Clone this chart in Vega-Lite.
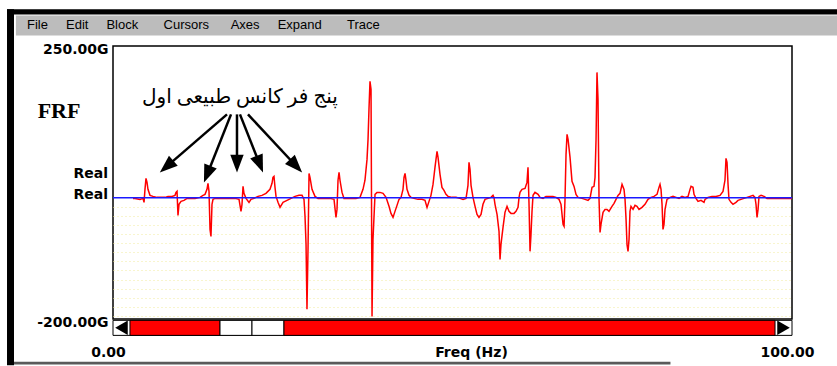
{
"$schema":"https://vega.github.io/schema/vega-lite/v6.json",
"width":679,"height":273,
"autosize":{"type":"none"},
"padding":{"left":113,"top":46,"right":45,"bottom":47},
"background":"#ffffff",
"config":{"view":{"stroke":"#000000","strokeWidth":1.5,"fill":"#ffffff"}},
"data":{"values":[{"item":"annotation"}]},
"datasets":{
"frf":[
{"freq":2.95,"value":-1.2},{"freq":3.24,"value":-1.2},{"freq":3.98,"value":-2.8},{"freq":4.42,"value":-1.2},{"freq":4.57,"value":-7.7},{"freq":4.71,"value":13.7},{"freq":4.86,"value":31.8},{"freq":5.01,"value":25.2},{"freq":5.15,"value":13.7},{"freq":5.45,"value":3.8},{"freq":5.89,"value":2.1},{"freq":6.48,"value":0.5},{"freq":6.92,"value":0.5},{"freq":7.66,"value":0.5},{"freq":8.10,"value":2.1},{"freq":8.39,"value":2.1},{"freq":8.69,"value":2.1},{"freq":9.13,"value":3.8},{"freq":9.28,"value":8.7},{"freq":9.43,"value":10.4},{"freq":9.57,"value":-29.2},{"freq":9.72,"value":-11.0},{"freq":10.02,"value":-6.1},{"freq":10.46,"value":-4.5},{"freq":10.90,"value":-1.2},{"freq":11.34,"value":-1.2},{"freq":12.08,"value":-1.2},{"freq":12.81,"value":0.5},{"freq":13.26,"value":3.8},{"freq":13.55,"value":5.4},{"freq":13.84,"value":13.7},{"freq":13.99,"value":23.6},{"freq":14.14,"value":10.4},{"freq":14.29,"value":-52.3},{"freq":14.43,"value":-63.8},{"freq":14.58,"value":-11.0},{"freq":14.73,"value":-2.8},{"freq":15.02,"value":-1.2},{"freq":15.76,"value":-1.2},{"freq":16.50,"value":-1.2},{"freq":17.23,"value":-1.2},{"freq":17.97,"value":-1.2},{"freq":18.56,"value":-2.8},{"freq":18.85,"value":-22.6},{"freq":19.00,"value":-11.0},{"freq":19.15,"value":18.6},{"freq":19.29,"value":7.1},{"freq":19.59,"value":-1.2},{"freq":20.03,"value":-7.7},{"freq":20.32,"value":-2.8},{"freq":20.77,"value":-1.2},{"freq":21.36,"value":2.1},{"freq":21.94,"value":3.8},{"freq":22.53,"value":7.1},{"freq":23.12,"value":13.7},{"freq":23.42,"value":23.6},{"freq":23.56,"value":33.3},{"freq":23.71,"value":35.0},{"freq":23.86,"value":17.0},{"freq":24.01,"value":2.1},{"freq":24.30,"value":-7.7},{"freq":24.60,"value":-16.0},{"freq":25.04,"value":-7.7},{"freq":25.63,"value":-4.5},{"freq":26.22,"value":-1.2},{"freq":26.80,"value":2.1},{"freq":27.39,"value":3.8},{"freq":27.84,"value":3.8},{"freq":28.13,"value":-2.8},{"freq":28.28,"value":-30.8},{"freq":28.43,"value":-77.0},{"freq":28.57,"value":-184.1},{"freq":28.72,"value":-85.2},{"freq":28.87,"value":40.0},{"freq":29.01,"value":33.3},{"freq":29.31,"value":13.7},{"freq":29.75,"value":2.1},{"freq":30.19,"value":-1.2},{"freq":30.78,"value":-1.2},{"freq":31.37,"value":-1.2},{"freq":31.96,"value":-1.2},{"freq":32.55,"value":-2.8},{"freq":32.84,"value":-32.5},{"freq":32.99,"value":-19.3},{"freq":33.14,"value":28.7},{"freq":33.29,"value":41.7},{"freq":33.43,"value":28.7},{"freq":33.73,"value":8.7},{"freq":34.02,"value":-1.2},{"freq":34.61,"value":-1.2},{"freq":35.20,"value":-1.2},{"freq":35.79,"value":-1.2},{"freq":36.38,"value":0.5},{"freq":36.82,"value":13.7},{"freq":37.11,"value":28.7},{"freq":37.41,"value":63.1},{"freq":37.56,"value":96.1},{"freq":37.70,"value":145.5},{"freq":37.85,"value":191.7},{"freq":38.00,"value":178.5},{"freq":38.15,"value":-195.7},{"freq":38.29,"value":-68.7},{"freq":38.59,"value":5.4},{"freq":38.88,"value":8.7},{"freq":39.32,"value":8.7},{"freq":39.77,"value":7.1},{"freq":40.21,"value":0.5},{"freq":40.65,"value":-14.3},{"freq":40.94,"value":-25.9},{"freq":41.24,"value":-32.5},{"freq":41.53,"value":-22.6},{"freq":41.83,"value":-12.7},{"freq":42.12,"value":-2.8},{"freq":42.42,"value":0.5},{"freq":42.71,"value":13.7},{"freq":42.86,"value":33.3},{"freq":43.01,"value":40.0},{"freq":43.15,"value":28.7},{"freq":43.30,"value":13.7},{"freq":43.60,"value":3.8},{"freq":43.89,"value":0.5},{"freq":44.33,"value":-1.2},{"freq":44.92,"value":-2.8},{"freq":45.51,"value":-2.8},{"freq":45.95,"value":-4.5},{"freq":46.25,"value":-16.0},{"freq":46.54,"value":-6.1},{"freq":46.83,"value":3.8},{"freq":47.13,"value":21.9},{"freq":47.42,"value":49.9},{"freq":47.57,"value":63.1},{"freq":47.72,"value":76.3},{"freq":47.87,"value":66.4},{"freq":48.16,"value":38.4},{"freq":48.45,"value":17.0},{"freq":48.75,"value":12.0},{"freq":49.04,"value":5.4},{"freq":49.34,"value":2.1},{"freq":49.93,"value":0.5},{"freq":50.52,"value":0.5},{"freq":51.11,"value":-1.2},{"freq":51.55,"value":-2.8},{"freq":51.99,"value":-1.2},{"freq":52.28,"value":20.3},{"freq":52.43,"value":58.2},{"freq":52.58,"value":46.6},{"freq":52.73,"value":20.3},{"freq":53.02,"value":0.5},{"freq":53.32,"value":-14.3},{"freq":53.61,"value":-27.5},{"freq":53.90,"value":-32.5},{"freq":54.20,"value":-27.5},{"freq":54.49,"value":-11.0},{"freq":54.79,"value":-2.8},{"freq":55.23,"value":-1.2},{"freq":55.67,"value":0.5},{"freq":55.97,"value":3.8},{"freq":56.11,"value":0.5},{"freq":56.26,"value":-11.0},{"freq":56.56,"value":-27.5},{"freq":56.85,"value":-55.5},{"freq":57.00,"value":-101.7},{"freq":57.14,"value":-77.0},{"freq":57.44,"value":-49.0},{"freq":57.73,"value":-24.2},{"freq":58.03,"value":-14.3},{"freq":58.32,"value":-22.6},{"freq":58.62,"value":-25.9},{"freq":59.06,"value":-25.9},{"freq":59.35,"value":-22.6},{"freq":59.65,"value":-16.0},{"freq":59.80,"value":0.5},{"freq":59.94,"value":8.7},{"freq":60.24,"value":13.7},{"freq":60.68,"value":15.3},{"freq":60.97,"value":25.2},{"freq":61.12,"value":49.9},{"freq":61.27,"value":-11.0},{"freq":61.42,"value":-88.5},{"freq":61.56,"value":-60.5},{"freq":61.71,"value":-22.6},{"freq":61.86,"value":3.8},{"freq":62.15,"value":8.7},{"freq":62.60,"value":5.4},{"freq":62.89,"value":0.5},{"freq":63.33,"value":-1.2},{"freq":63.77,"value":2.1},{"freq":64.36,"value":2.1},{"freq":64.80,"value":2.1},{"freq":65.25,"value":0.5},{"freq":65.69,"value":-2.8},{"freq":65.98,"value":-11.0},{"freq":66.28,"value":-44.0},{"freq":66.43,"value":-47.3},{"freq":66.57,"value":-2.8},{"freq":66.72,"value":71.4},{"freq":66.87,"value":104.3},{"freq":67.02,"value":96.1},{"freq":67.31,"value":66.4},{"freq":67.60,"value":26.9},{"freq":67.90,"value":18.6},{"freq":68.19,"value":5.4},{"freq":68.49,"value":0.5},{"freq":69.07,"value":-1.2},{"freq":69.52,"value":-2.8},{"freq":69.96,"value":-4.5},{"freq":70.25,"value":-1.2},{"freq":70.55,"value":17.0},{"freq":70.84,"value":18.6},{"freq":70.99,"value":33.3},{"freq":71.14,"value":96.1},{"freq":71.28,"value":206.5},{"freq":71.43,"value":162.0},{"freq":71.58,"value":-2.8},{"freq":71.73,"value":-57.2},{"freq":71.87,"value":-44.0},{"freq":72.17,"value":-24.2},{"freq":72.46,"value":-19.3},{"freq":72.76,"value":-19.3},{"freq":73.05,"value":-22.6},{"freq":73.49,"value":-14.3},{"freq":73.79,"value":-9.4},{"freq":74.08,"value":-2.8},{"freq":74.38,"value":3.8},{"freq":74.67,"value":7.1},{"freq":74.97,"value":21.9},{"freq":75.26,"value":13.7},{"freq":75.41,"value":-2.8},{"freq":75.56,"value":-35.8},{"freq":75.70,"value":-77.0},{"freq":75.85,"value":-88.5},{"freq":76.00,"value":-68.7},{"freq":76.14,"value":-22.6},{"freq":76.29,"value":-14.3},{"freq":76.59,"value":-19.3},{"freq":76.88,"value":-12.7},{"freq":77.17,"value":-14.3},{"freq":77.47,"value":-19.3},{"freq":77.91,"value":-16.0},{"freq":78.35,"value":-11.0},{"freq":78.79,"value":-2.8},{"freq":79.24,"value":0.5},{"freq":79.68,"value":2.1},{"freq":80.12,"value":5.4},{"freq":80.41,"value":17.0},{"freq":80.56,"value":21.9},{"freq":80.71,"value":13.7},{"freq":80.86,"value":-11.0},{"freq":81.00,"value":-52.3},{"freq":81.15,"value":-44.0},{"freq":81.30,"value":-19.3},{"freq":81.59,"value":-2.8},{"freq":82.04,"value":0.5},{"freq":82.48,"value":2.1},{"freq":82.92,"value":0.5},{"freq":83.36,"value":-1.2},{"freq":83.80,"value":2.1},{"freq":84.24,"value":0.5},{"freq":84.69,"value":2.1},{"freq":84.98,"value":13.7},{"freq":85.13,"value":18.6},{"freq":85.42,"value":17.0},{"freq":85.57,"value":5.4},{"freq":85.86,"value":-1.2},{"freq":86.16,"value":-6.1},{"freq":86.60,"value":-4.5},{"freq":87.04,"value":-7.7},{"freq":87.19,"value":-2.8},{"freq":87.63,"value":0.5},{"freq":88.22,"value":2.1},{"freq":88.81,"value":2.1},{"freq":89.40,"value":3.8},{"freq":89.84,"value":10.4},{"freq":90.13,"value":28.7},{"freq":90.28,"value":64.8},{"freq":90.43,"value":58.2},{"freq":90.58,"value":21.9},{"freq":90.72,"value":-2.8},{"freq":91.02,"value":-7.7},{"freq":91.31,"value":-11.0},{"freq":91.75,"value":-7.7},{"freq":92.05,"value":-4.5},{"freq":92.49,"value":-2.8},{"freq":92.93,"value":-1.2},{"freq":93.38,"value":0.5},{"freq":93.82,"value":2.1},{"freq":94.26,"value":3.8},{"freq":94.55,"value":0.5},{"freq":94.70,"value":-11.0},{"freq":94.85,"value":-32.5},{"freq":95.00,"value":-19.3},{"freq":95.14,"value":2.1},{"freq":95.44,"value":3.8},{"freq":95.88,"value":2.1},{"freq":96.32,"value":-1.2},{"freq":96.76,"value":-1.2},{"freq":98.53,"value":-1.2},{"freq":99.12,"value":-1.2},{"freq":100.0,"value":-1.2}
],
"scroll":[
{"start":2.50,"end":15.76,"part":"bar"},
{"start":15.76,"end":20.47,"part":"thumb"},
{"start":20.47,"end":25.18,"part":"thumb"},
{"start":25.18,"end":97.50,"part":"bar"}
],
"arrows":[
{"from_f":16.79,"from_v":137.3,"to_f":8.14,"to_v":53.6},
{"from_f":17.38,"from_v":137.3,"to_f":14.00,"to_v":42.0},
{"from_f":18.26,"from_v":137.3,"to_f":18.26,"to_v":59.8},
{"from_f":18.70,"from_v":137.3,"to_f":21.49,"to_v":58.5},
{"from_f":19.88,"from_v":137.3,"to_f":26.73,"to_v":55.1}
]
},
"layer":[
{"data":{"name":"frf"},
 "mark":{"type":"line","color":"#ff0000","strokeWidth":1.5},
 "encoding":{
  "x":{"field":"freq","type":"quantitative","scale":{"domain":[0,100],"nice":false,"zero":false},
   "axis":{"values":[0,100],"format":".2f","labelFlush":false,"labelOffset":-5,"ticks":false,"domain":false,"grid":false,"labelPadding":26,"labelFont":"DejaVu Sans","labelFontWeight":"bold","labelFontSize":14,"labelColor":"#000000",
    "title":"Freq (Hz)","titleFont":"DejaVu Sans","titleFontWeight":"bold","titleFontSize":14,"titleColor":"#000000","titleX":358,"titleY":33,"titleBaseline":"middle","titleAlign":"center"}},
  "y":{"field":"value","type":"quantitative","scale":{"domain":[-200,250],"nice":false,"zero":false},
   "axis":{"values":[-200,-195,-180,-165,-150,-135,-120,-105,-90,-75,-60,-45,-30,-15,250],"tickCount":100,"labelExpr":"datum.value > 200 ? '250.00G' : (datum.value < -199 ? '-200.00G' : '')","labelOverlap":false,"labelFlush":false,"labelBound":false,"labelOffset":3,"ticks":false,"domain":false,"labelPadding":5,"labelFont":"DejaVu Sans","labelFontWeight":"bold","labelFontSize":14,"labelColor":"#000000","title":null,
    "grid":true,"gridDash":[1,3],"gridWidth":1,"gridColor":{"condition":{"test":"datum.value < 0 && datum.value > -200","value":"#f0eb9c"},"value":"rgba(0,0,0,0)"}}}
 }},
{"mark":{"type":"rect","color":"#000000"},
 "encoding":{"x":{"datum":-15.61},"x2":{"datum":106.63},"y":{"datum":310.4},"y2":{"datum":302.1}}},
{"mark":{"type":"rect","color":"#000000"},
 "encoding":{"x":{"datum":-15.61},"x2":{"datum":-14.58},"y":{"datum":310.4},"y2":{"datum":-276.4}}},
{"mark":{"type":"rect","color":"#bcbcbc"},
 "encoding":{"x":{"datum":-14.3},"x2":{"datum":106.63},"y":{"datum":300.4},"y2":{"datum":267.5}}},
{"mark":{"type":"rect","color":"#5a5a5a"},
 "encoding":{"x":{"datum":-14.58},"x2":{"datum":82.1},"y":{"datum":-270.5},"y2":{"datum":-275.0}}},
{"mark":{"type":"text","text":"File\u00a0\u00a0\u00a0\u00a0\u00a0Edit\u00a0\u00a0\u00a0\u00a0\u00a0Block\u00a0\u00a0\u00a0\u00a0\u00a0\u00a0\u00a0Cursors\u00a0\u00a0\u00a0\u00a0\u00a0\u00a0Axes\u00a0\u00a0\u00a0\u00a0\u00a0Expand\u00a0\u00a0\u00a0\u00a0\u00a0\u00a0\u00a0Trace","align":"left","baseline":"middle","font":"Liberation Sans","fontSize":13,"color":"#000000"},
 "encoding":{"x":{"datum":-12.67},"y":{"datum":284.0}}},
{"mark":{"type":"rule","color":"#1a1aff","strokeWidth":1.5},
 "encoding":{"y":{"datum":0}}},
{"mark":{"type":"rect","fill":"#ffffff","stroke":"#000000","strokeWidth":1},
 "encoding":{"x":{"datum":0},"x2":{"datum":100},"y":{"datum":-202.2},"y2":{"datum":-227.0}}},
{"data":{"name":"scroll"},
 "mark":{"type":"rect","stroke":"#000000","strokeWidth":1},
 "encoding":{"x":{"field":"start","type":"quantitative"},"x2":{"field":"end"},"y":{"datum":-202.2},"y2":{"datum":-227.0},
  "fill":{"field":"part","type":"nominal","scale":{"domain":["bar","thumb"],"range":["#ff0000","#ffffff"]},"legend":null}}},
{"mark":{"type":"point","shape":"triangle-left","filled":true,"color":"#000000","size":210,"opacity":1},
 "encoding":{"x":{"datum":1.25},"y":{"datum":-214.6}}},
{"mark":{"type":"point","shape":"triangle-right","filled":true,"color":"#000000","size":210,"opacity":1},
 "encoding":{"x":{"datum":98.75},"y":{"datum":-214.6}}},
{"mark":{"type":"text","text":"FRF","align":"center","baseline":"middle","font":"Liberation Serif","fontWeight":"bold","fontSize":22,"color":"#000000"},
 "encoding":{"x":{"datum":-7.95},"y":{"datum":142.2}}},
{"mark":{"type":"text","text":["Real","Real"],"lineHeight":21,"align":"right","baseline":"alphabetic","font":"DejaVu Sans","fontWeight":"bold","fontSize":14,"color":"#000000"},
 "encoding":{"x":{"datum":-0.74},"y":{"datum":32.0}}},
{"mark":{"type":"text","text":"پنج فر کانس طبیعی اول","align":"center","baseline":"middle","font":"Liberation Serif, DejaVu Sans","fontSize":20,"color":"#000000"},
 "encoding":{"x":{"datum":18.70},"y":{"datum":165.3}}},
{"data":{"name":"arrows"},
 "mark":{"type":"rule","color":"#000000","strokeWidth":2.5},
 "encoding":{"x":{"field":"from_f","type":"quantitative"},"x2":{"field":"to_f"},"y":{"field":"from_v","type":"quantitative"},"y2":{"field":"to_v"}}},
{"data":{"name":"arrows"},
 "transform":[{"calculate":"atan2((datum.to_f - datum.from_f) * 6.79, (datum.to_v - datum.from_v) * 0.6067) * 180 / PI","as":"angle"}],
 "mark":{"type":"point","shape":"M0,-1L0.6,0.6L-0.6,0.6Z","filled":true,"color":"#000000","size":500,"opacity":1},
 "encoding":{"x":{"field":"to_f","type":"quantitative"},"y":{"field":"to_v","type":"quantitative"},"angle":{"field":"angle","type":"quantitative","scale":null}}}
]
}
